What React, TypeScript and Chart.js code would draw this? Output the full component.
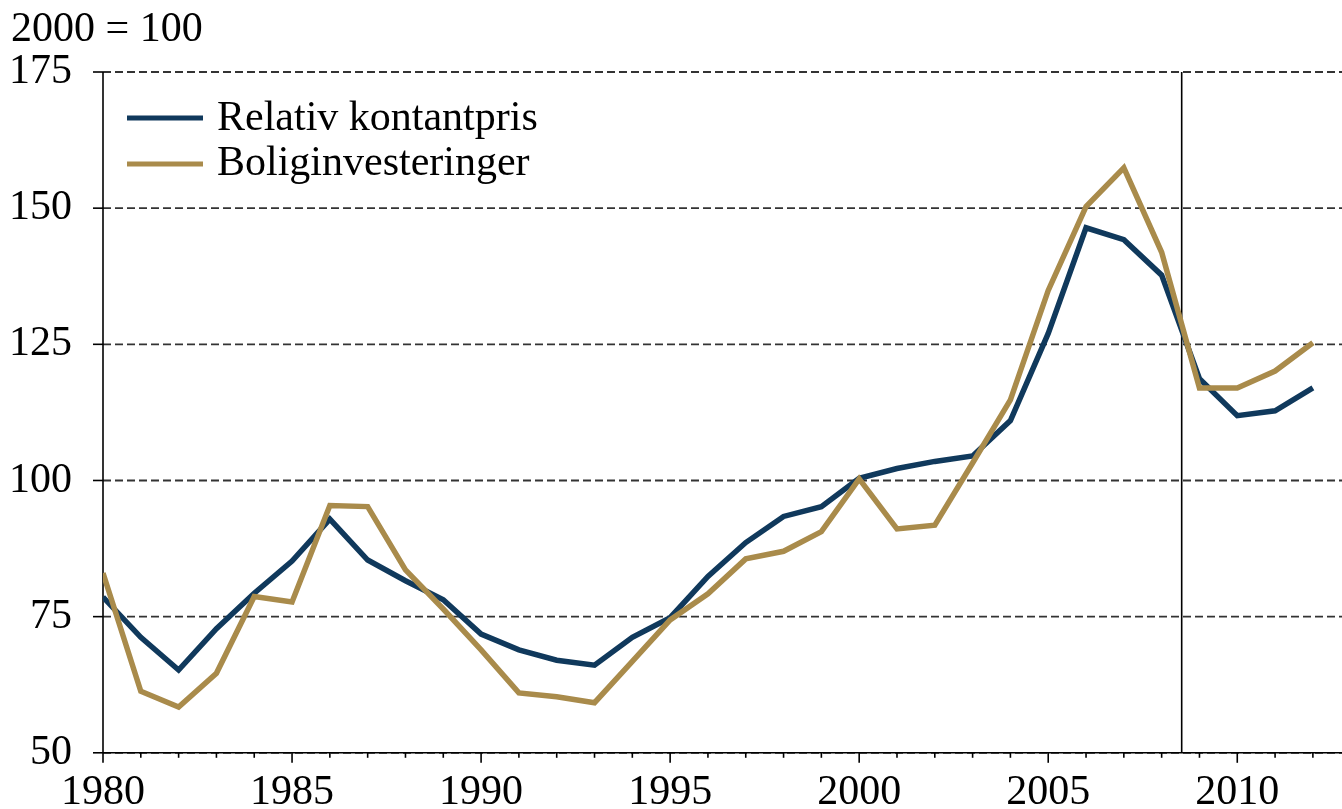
import React, { useEffect, useRef } from "react";
import { Chart, registerables } from "chart.js";

Chart.register(...registerables);

const years: number[] = [
  1980, 1981, 1982, 1983, 1984, 1985, 1986, 1987, 1988, 1989,
  1990, 1991, 1992, 1993, 1994, 1995, 1996, 1997, 1998, 1999,
  2000, 2001, 2002, 2003, 2004, 2005, 2006, 2007, 2008, 2009,
  2010, 2011, 2012,
];

const relativKontantpris: number[] = [
  78.6, 71.2, 65.2, 72.8, 79.3, 85.2, 92.9, 85.4, 81.6, 78.1,
  71.8, 68.9, 67.0, 66.1, 71.2, 74.8, 82.4, 88.6, 93.4, 95.2,
  100.4, 102.2, 103.5, 104.5, 111.0, 127.0, 146.4, 144.2, 137.7, 118.7,
  111.9, 112.8, 117.0,
];

const boliginvesteringer: number[] = [
  83.0, 61.3, 58.4, 64.6, 78.7, 77.7, 95.4, 95.2, 83.6, 76.4,
  68.9, 61.0, 60.3, 59.2, 66.8, 74.4, 79.2, 85.6, 87.0, 90.6,
  100.3, 91.1, 91.8, 103.2, 114.8, 134.9, 150.3, 157.4, 141.9, 117.0,
  117.0, 120.1, 125.3,
];

const seriesLabels: string[] = ["Relativ kontantpris", "Boliginvesteringer"];
const yTicks: number[] = [50, 75, 100, 125, 150, 175];
const xLabelTicks: number[] = [1980, 1985, 1990, 1995, 2000, 2005, 2010];
const unitLabel = "2000 = 100";
const markerYear = 2008.53;

const BLUE = "#10395c";
const GOLD = "#a98b4b";
const FONT = "'Liberation Serif', 'Times New Roman', serif";
const FONT_SIZE = 42;

export default function App() {
  const ref = useRef<HTMLCanvasElement | null>(null);

  useEffect(() => {
    const canvas = ref.current;
    if (!canvas) return;

    const decor = {
      id: "decor",
      beforeDatasetsDraw(chart: any) {
        const { ctx, chartArea } = chart;
        const x = chart.scales.x;
        const y = chart.scales.y;
        const { left, right, top, bottom } = chartArea;
        ctx.save();
        // dashed gridlines
        ctx.strokeStyle = "#333333";
        ctx.lineWidth = 1.8;
        ctx.setLineDash([8, 4]);
        for (const v of yTicks) {
          const py = y.getPixelForValue(v);
          ctx.beginPath();
          ctx.moveTo(left, py);
          ctx.lineTo(right, py);
          ctx.stroke();
        }
        ctx.setLineDash([]);
        ctx.strokeStyle = "#000";
        ctx.lineWidth = 1.6;
        // y axis
        ctx.beginPath();
        ctx.moveTo(left, top);
        ctx.lineTo(left, bottom);
        ctx.stroke();
        // x axis
        ctx.beginPath();
        ctx.moveTo(left, bottom);
        ctx.lineTo(right, bottom);
        ctx.stroke();
        // y ticks
        for (const v of yTicks) {
          const py = y.getPixelForValue(v);
          ctx.beginPath();
          ctx.moveTo(left - 10, py);
          ctx.lineTo(left, py);
          ctx.stroke();
        }
        // x ticks
        for (const yr of years) {
          const px = x.getPixelForValue(yr);
          const len = yr % 5 === 0 ? 10 : 5;
          ctx.beginPath();
          ctx.moveTo(px, bottom);
          ctx.lineTo(px, bottom + len);
          ctx.stroke();
        }
        // vertical marker
        const mx = x.getPixelForValue(markerYear);
        ctx.beginPath();
        ctx.moveTo(mx, top);
        ctx.lineTo(mx, bottom);
        ctx.stroke();
        ctx.restore();
      },
      afterDraw(chart: any) {
        const { ctx } = chart;
        ctx.save();
        ctx.fillStyle = "#000";
        ctx.font = `${FONT_SIZE}px ${FONT}`;
        ctx.textBaseline = "alphabetic";
        ctx.textAlign = "left";
        ctx.fillText(unitLabel, 11, 41);
        const items = [
          { label: seriesLabels[0], color: BLUE, ly: 118, ty: 130 },
          { label: seriesLabels[1], color: GOLD, ly: 164, ty: 175 },
        ];
        for (const it of items) {
          ctx.strokeStyle = it.color;
          ctx.lineWidth = 5;
          ctx.beginPath();
          ctx.moveTo(127, it.ly);
          ctx.lineTo(203, it.ly);
          ctx.stroke();
          ctx.fillStyle = "#000";
          ctx.fillText(it.label, 217, it.ty);
        }
        ctx.restore();
      },
    };

    const chart = new Chart(canvas, {
      type: "line",
      data: {
        datasets: [
          {
            label: seriesLabels[0],
            data: years.map((yr, i) => ({ x: yr, y: relativKontantpris[i] })),
            borderColor: BLUE,
            backgroundColor: BLUE,
            borderWidth: 5.5,
            pointRadius: 0,
            tension: 0,
            borderJoinStyle: "miter",
            order: 2,
          },
          {
            label: seriesLabels[1],
            data: years.map((yr, i) => ({ x: yr, y: boliginvesteringer[i] })),
            borderColor: GOLD,
            backgroundColor: GOLD,
            borderWidth: 5.5,
            pointRadius: 0,
            tension: 0,
            borderJoinStyle: "miter",
            order: 1,
          },
        ],
      },
      options: {
        responsive: false,
        animation: false,
        events: [],
        layout: { padding: { top: 72, right: 0, left: 0, bottom: 0 } },
        plugins: {
          legend: { display: false },
          tooltip: { enabled: false },
          title: { display: false },
        },
        scales: {
          x: {
            type: "linear",
            min: 1980,
            max: 2012.77,
            grid: { display: false, drawTicks: false },
            border: { display: false },
            afterBuildTicks: (scale: any) => {
              scale.ticks = xLabelTicks.map((v) => ({ value: v }));
            },
            afterFit: (scale: any) => {
              scale.height = 52;
            },
            ticks: {
              color: "#000",
              font: { family: FONT, size: FONT_SIZE },
              padding: 15,
              maxRotation: 0,
              autoSkip: false,
              callback: (v: any) => String(v),
            },
          },
          y: {
            min: 50,
            max: 175,
            grid: { display: false, drawTicks: false },
            border: { display: false },
            afterBuildTicks: (scale: any) => {
              scale.ticks = yTicks.map((v) => ({ value: v }));
            },
            afterFit: (scale: any) => {
              scale.width = 103;
            },
            ticks: {
              color: "#000",
              font: { family: FONT, size: FONT_SIZE },
              padding: 31,
              callback: (v: any) => String(v),
            },
          },
        },
      },
      plugins: [decor],
    } as any);

    return () => chart.destroy();
  }, []);

  return (
    <div style={{ position: "absolute", left: 0, top: 0, width: 1342, height: 809, background: "#fff" }}>
      <canvas ref={ref} width={1342} height={809} style={{ display: "block" }} />
    </div>
  );
}
